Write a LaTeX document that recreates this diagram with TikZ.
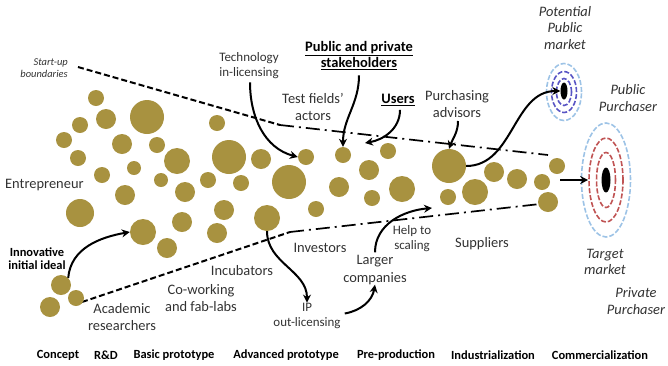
\documentclass[tikz,border=0pt]{standalone}
\usepackage{fontspec}
\setmainfont{Carlito}
\usetikzlibrary{arrows.meta,shapes.geometric}

\definecolor{seedgold}{RGB}{168,146,64}
\definecolor{ringblue}{RGB}{157,195,230}
\definecolor{ringviolet}{RGB}{88,84,196}
\definecolor{ringred}{RGB}{192,84,84}
\definecolor{labelgray}{RGB}{50,50,50}

\tikzset{
  seed/.style={circle,fill=seedgold,inner sep=0pt},
  flow/.style={-{Stealth[length=8bp,width=8bp]},line width=2bp},
  lbl/.style={font=\fontsize{14.5}{17.5}\selectfont,text=labelgray,align=center,inner sep=0pt},
  smalllbl/.style={font=\fontsize{13}{15}\selectfont,text=labelgray,align=center,inner sep=0pt},
  keylbl/.style={font=\bfseries\fontsize{14.5}{17}\selectfont,align=center,inner sep=0pt},
  marketlbl/.style={font=\itshape\fontsize{14.5}{16.5}\selectfont,text=labelgray,align=center,inner sep=0pt},
  stagelbl/.style={font=\bfseries\fontsize{12.5}{14}\selectfont,inner sep=0pt},
  ring/.style={ellipse,draw,inner sep=0pt,line width=1.6bp,dash pattern=on 5bp off 2bp},
  core/.style={ellipse,fill=black,inner sep=0pt},
  bounddash/.style={line width=2bp,dash pattern=on 6bp off 3bp},
  bounddot/.style={line width=1.7bp,dash pattern=on 14bp off 5bp on 2bp off 5bp},
}

\begin{document}
\begin{tikzpicture}[x=1bp,y=-1bp]
\useasboundingbox (0,0) rectangle (668,365);

% start-up boundaries
\coordinate (ua) at (78,67);
\coordinate (ub) at (280,125);
\coordinate (uc) at (548,155);
\coordinate (la) at (82,302);
\coordinate (lb) at (290,232);
\coordinate (lc) at (540,204);
\draw[bounddash] (ua) -- (ub);
\draw[bounddot] (ub) -- (uc);
\draw[bounddash] (la) -- (lb);
\draw[bounddot] (lb) -- (lc);

% seeds: name/x/y/diameter
\foreach \n/\x/\y/\d in {
  c1/96/98/16, c2/106/119/20, c3/147/117/34, c4/80/125/16, c5/64/140/16,
  c6/122/144/20, c7/157/145/16, c8/177/161/26, c9/78/158/16, c10/134/168/14,
  c11/102/175/16, c12/161/180/14, c13/125/195/20, c14/185/192/20, c15/80/213/28,
  c16/143/232/26, c17/167/248/20, c18/182/222/20, c19/61/285/20, c20/76/298/16,
  c21/50/307/20, c22/217/123/16, c23/229/157/34, c24/261/159/20, c25/306/157/16,
  c26/343/155/16, c27/208/180/16, c28/241/183/16, c29/289/182/34, c30/339/187/20,
  c31/369/170/20, c32/372/198/16, c33/224/210/20, c34/316/209/16, c35/267/218/26,
  c36/217/233/20, c37/388/151/16, c38/402/189/26, c39/449/166/34, c40/448/197/16,
  c41/475/192/26, c42/494/172/20, c43/517/179/20, c44/542/182/16, c45/557/166/16,
  c46/548/202/20}
  \node[seed,minimum size=\d bp] (\n) at (\x,\y) {};

% markets
\node[ring,draw=ringblue,minimum width=35bp,minimum height=57bp] (pmout) at (564,92) {};
\node[ring,draw=ringviolet,minimum width=25bp,minimum height=41bp] (pmmid) at (564,92) {};
\node[ring,draw=ringviolet,minimum width=15bp,minimum height=27bp] (pmin) at (564,92) {};
\node[core,minimum width=7bp,minimum height=17bp] (pmcore) at (564,91) {};
\node[ring,draw=ringblue,minimum width=49bp,minimum height=114bp] (tmout) at (606,180) {};
\node[ring,draw=ringred,minimum width=34bp,minimum height=84bp] (tmmid) at (606,180) {};
\node[ring,draw=ringred,minimum width=19bp,minimum height=55bp] (tmin) at (606,180) {};
\node[core,minimum width=9bp,minimum height=25bp] (tmcore) at (606,180) {};

% labels
\node[font=\itshape\fontsize{10.5}{12}\selectfont,text=labelgray,align=right,anchor=east,inner sep=0pt] (startup) at (68,68) {Start-up\\boundaries};
\node[lbl,anchor=west] (entre) at (5,185) {Entrepreneur};
\node[smalllbl] (techin) at (249,66) {Technology\\in-licensing};
\node[keylbl] (stake) at (359,55.5) {\underline{Public and private}\\\underline{stakeholders}};
\node[lbl] (testf) at (313,107) {Test fields'\\actors};
\node[keylbl] (users) at (398,100) {\underline{Users}};
\node[lbl] (advisors) at (457,104) {Purchasing\\advisors};
\node[marketlbl] (potmkt) at (565,28) {Potential\\Public\\market};
\node[marketlbl] (pubpur) at (628,98) {Public\\Purchaser};
\node[marketlbl] (target) at (605,262) {Target\\market};
\node[marketlbl] (privpur) at (636,301) {Private\\Purchaser};
\node[lbl] (suppl) at (482,244) {Suppliers};
\node[smalllbl] (helpsc) at (412,239) {Help to\\scaling};
\node[lbl] (larger) at (375,270) {Larger\\companies};
\node[lbl] (invest) at (320,248) {Investors};
\node[lbl] (incub) at (242,271) {Incubators};
\node[lbl] (cowork) at (201,298) {Co-working\\and fab-labs};
\node[lbl] (academic) at (122,317) {Academic\\researchers};
\node[font=\bfseries\fontsize{12.5}{13.5}\selectfont,align=center,inner sep=0pt] (innov) at (37,258.5) {Innovative\\initial ideal};
\node[smalllbl] (ip) at (307,315.5) {IP\\out-licensing};

% stages
\node[stagelbl] (s1) at (58,355) {Concept};
\node[stagelbl] (s2) at (106,355) {R\&D};
\node[stagelbl] (s3) at (174,355) {Basic prototype};
\node[stagelbl] (s4) at (286,355) {Advanced prototype};
\node[stagelbl] (s5) at (396,355) {Pre-production};
\node[stagelbl] (s6) at (493,355) {Industrialization};
\node[stagelbl] (s7) at (600,355) {Commercialization};

% flows
\coordinate (usersend) at (365,143);
\coordinate (pushstart) at (560,180);
\coordinate (helpend) at (432,208);
\draw[flow] (c19.north east) to[out=85,in=190] (c16.west);
\draw[flow] (techin.south) ++(1,3) to[out=-90,in=165] (c25.west);
\draw[flow] (stake.south) ++(0,5) to[out=-90,in=90] (c26.north);
\draw[flow] (users.south) ++(2,4) to[out=-90,in=10] (usersend);
\draw[flow] (advisors.south) ++(1,3) to[out=-90,in=70] (c39.north);
\draw[flow] (c39.east) to[out=0,in=180] (pmcore.west);
\draw[flow] (pushstart) -- (tmmid.west);
\draw[flow] (c35.south) to[out=-90,in=90] (ip.north);
\draw[flow] (ip.east) ++(4,-2) to[out=10,in=-100] (larger.south);
\draw[flow] (larger.north) ++(0,-3) to[out=90,in=185] (helpend);

\end{tikzpicture}
\end{document}
